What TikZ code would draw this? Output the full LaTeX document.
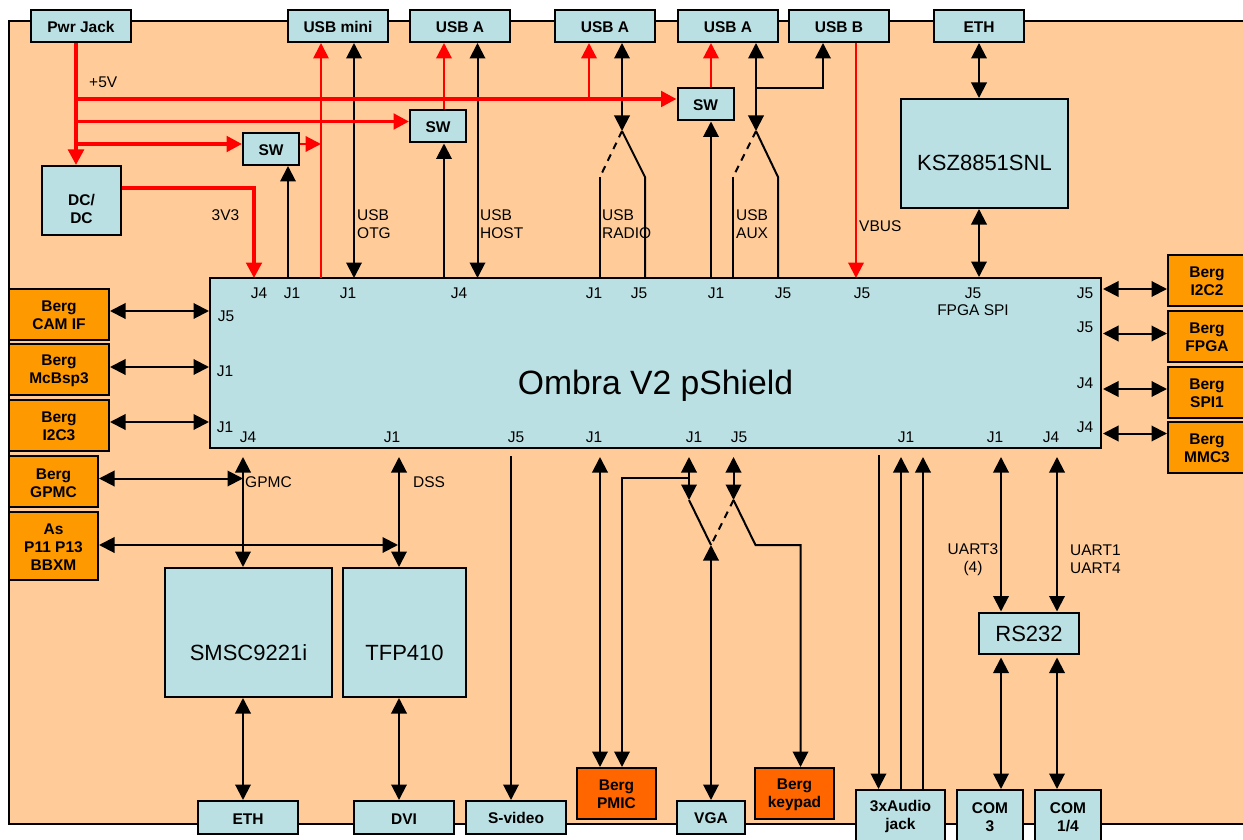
\documentclass[tikz,border=0pt]{standalone}
\usepackage{fontspec}
\setmainfont{Liberation Sans}
\usepackage{xcolor}
\usetikzlibrary{arrows.meta,positioning}
\definecolor{boardfill}{HTML}{FFCC99}
\definecolor{partfill}{HTML}{BBE0E3}
\definecolor{bergfill}{HTML}{FF9900}
\definecolor{bergdark}{HTML}{FF6600}

\begin{document}
\begin{tikzpicture}[
    x=1pt, y=-1pt,
    part/.style={rectangle, draw=black, fill=partfill, line width=2pt, inner sep=0pt, outer sep=1pt, align=center, font=\fontsize{15.5}{18}\selectfont\bfseries},
    conn/.style={part, minimum width=100pt, minimum height=32pt, text height=13pt},
    swbox/.style={part, minimum width=56pt, minimum height=32pt, text height=13pt},
    chip/.style={part, font=\fontsize{22}{26}\selectfont, text height=56pt, text depth=0pt},
    berg/.style={part, fill=bergfill, minimum width=100pt, minimum height=51pt, text height=31pt},
    bergsmall/.style={berg, minimum width=89pt},
    lowconn/.style={part, minimum height=52pt, text height=31pt},
    lbl/.style={inner sep=0pt, font=\fontsize{15.5}{18}\selectfont},
    txt/.style={lbl, anchor=west, align=left},
    tip/.style={-{Triangle[length=15.5pt,width=15.5pt]}},
    arrow/.style={tip, line width=2pt},
    both/.style={{Triangle[length=15.5pt,width=15.5pt]}-{Triangle[length=15.5pt,width=15.5pt]}, line width=2pt},
    wire/.style={line width=2pt},
    redarrow/.style={tip, draw=red, line width=2.2pt},
    rail/.style={tip, draw=red, line width=3.6pt}
]
\clip (0,0) rectangle (1243,840);
\draw[fill=boardfill, line width=2pt] (9,21) rectangle (1260,824);

% Main board
\node[part, minimum width=891pt, minimum height=170pt, font=\fontsize{33.7}{40}\selectfont, text height=62pt, text depth=0pt] (main) at (655.5,363) {Ombra V2 pShield};

% Top connectors
\node[conn] (pwrjack) at (81,26) {Pwr Jack};
\node[conn] (usbmini) at (338,26) {USB mini};
\node[conn, right of=usbmini, node distance=122pt] (usbaa) {USB A};
\node[conn, right of=usbaa, node distance=145pt] (usbab) {USB A};
\node[conn, right of=usbab, node distance=123pt] (usbac) {USB A};
\node[conn, right of=usbac, node distance=111pt] (usbb) {USB B};
\node[conn, minimum width=90pt] (ethtop) at (979,26) {ETH};

% Switches and regulators
\node[swbox] (swa) at (271,149) {SW};
\node[swbox] (swb) at (438,126.5) {SW};
\node[swbox] (swc) at (705.5,104.5) {SW};
\node[part, minimum width=79pt, minimum height=69pt, text height=47pt] (dcdc) at (81.5,200.5) {DC/\\DC};
\node[chip, minimum width=167pt, minimum height=109pt, text height=34pt] (ksz) at (984.5,153.5) {KSZ8851SNL};

% Berg headers, left
\node[berg] (bergcam) at (59,314) {Berg\\CAM IF};
\node[berg, below of=bergcam, node distance=55.5pt] (bergmcbsp) {Berg\\McBsp3};
\node[berg, below of=bergmcbsp, node distance=56pt] (bergictwo) {Berg\\I2C3};
\node[bergsmall, text height=33pt] (berggpmc) at (53.5,481) {Berg\\GPMC};
\node[bergsmall, minimum height=68pt, text height=49pt] (bergas) at (53.5,546) {As\\P11 P13\\BBXM};

% Berg headers, right
\node[bergsmall, minimum width=78pt] (bergicb) at (1207,280.5) {Berg\\I2C2};
\node[bergsmall, minimum width=78pt, below of=bergicb, node distance=56pt] (bergfpga) {Berg\\FPGA};
\node[bergsmall, minimum width=78pt, below of=bergfpga, node distance=55.5pt] (bergspi) {Berg\\SPI1};
\node[bergsmall, minimum width=78pt, below of=bergspi, node distance=55.5pt] (bergmmc) {Berg\\MMC3};

% Lower parts
\node[chip, minimum width=167pt, minimum height=129pt] (smsc) at (248.5,632.5) {SMSC9221i};
\node[chip, minimum width=123pt, minimum height=129pt] (tfp) at (404.5,632.5) {TFP410};
\node[part, minimum width=100pt, minimum height=41pt, font=\fontsize{22}{26}\selectfont, text height=18pt] (rs) at (1029,633) {RS232};

% Bottom connectors
\node[conn, minimum height=33pt] (ethlow) at (248,817.5) {ETH};
\node[conn, minimum height=33pt] (dvi) at (404,817.5) {DVI};
\node[conn, minimum height=33pt] (svideo) at (516,817.5) {S-video};
\node[conn, minimum height=33pt, minimum width=68pt] (vga) at (711,817.5) {VGA};
\node[berg, fill=bergdark, minimum width=79pt] (bergpmic) at (616.5,793.5) {Berg\\PMIC};
\node[berg, fill=bergdark, minimum width=79pt] (bergkey) at (794.5,793.5) {Berg\\keypad};
\node[lowconn, minimum width=89pt] (audio) at (900.5,816) {3xAudio\\jack};
\node[lowconn, minimum width=66pt] (comthree) at (990,816) {COM\\3};
\node[lowconn, minimum width=66pt] (comfour) at (1068,816) {COM\\1/4};

% Connector ends on the board, top edge
\coordinate (tpwr) at (254,278);
\coordinate (tswa) at (288,278);
\coordinate (tmini) at (321,278);
\coordinate (totg) at (354,278);
\coordinate (tswb) at (444,278);
\coordinate (thost) at (477.5,278);
\coordinate (tradioa) at (600,278);
\coordinate (tradiob) at (645,278);
\coordinate (tswc) at (711,278);
\coordinate (tauxa) at (733,278);
\coordinate (tauxb) at (778,278);
\coordinate (tvbus) at (856,278);

% Connector ends on the board, bottom edge
\coordinate (bgpmc) at (243,457);
\coordinate (bdss) at (399,457);
\coordinate (bsv) at (511,456);
\coordinate (bpmic) at (600,457);
\coordinate (bvgaa) at (689,457);
\coordinate (bvgab) at (733.5,457);
\coordinate (baua) at (878.5,455);
\coordinate (baub) at (901,457);
\coordinate (bauc) at (923,457);
\coordinate (buartc) at (1001,457);
\coordinate (buarta) at (1057,457);

% Connector ends on the board, sides
\coordinate (lcam) at (209,311);
\coordinate (lmcbsp) at (209,367);
\coordinate (lic) at (209,422);
\coordinate (ricb) at (1103,289);
\coordinate (rfpga) at (1103,333.5);
\coordinate (rspi) at (1103,389);
\coordinate (rmmc) at (1103,433.5);

% Bends and junctions
\coordinate (railc) at (76,99);
\coordinate (railb) at (76,121.5);
\coordinate (raila) at (76,144);
\coordinate (railup) at (589,99);
\coordinate (vthree) at (254,188);
\coordinate (radiosw) at (622,131);
\coordinate (radioa) at (600,177);
\coordinate (radiob) at (645,177);
\coordinate (auxsw) at (756,131);
\coordinate (auxa) at (733,177);
\coordinate (auxb) at (778,177);
\coordinate (auxbr) at (756,88);
\coordinate (usbbr) at (823,88);
\coordinate (gpmcj) at (243,478.5);
\coordinate (dssj) at (398,545);
\coordinate (pmicbr) at (689,478);
\coordinate (pmicup) at (622,478);
\coordinate (vgaa) at (689,500);
\coordinate (vgab) at (733.5,500);
\coordinate (vgasw) at (711,545);
\coordinate (keya) at (755.5,545);
\coordinate (keyb) at (800.5,545);

% Black signal lines, top
\draw[arrow] (tswa) -- (swa.south -| tswa);
\draw[both] (usbmini.south -| totg) -- (totg);
\draw[arrow] (tswb) -- (swb.south -| tswb);
\draw[both] (usbaa.south -| thost) -- (thost);
\draw[both] (usbab.south -| radiosw) -- (radiosw);
\draw[wire, dash pattern=on 7pt off 6pt] (radiosw) -- (radioa);
\draw[wire] (radioa) -- (tradioa);
\draw[wire] (radiosw) -- (radiob) -- (tradiob);
\draw[arrow] (tswc) -- (swc.south -| tswc);
\draw[both] (usbac.south -| auxsw) -- (auxsw);
\draw[arrow] (auxbr) -- (usbbr) -- (usbb.south -| usbbr);
\draw[wire, dash pattern=on 7pt off 6pt] (auxsw) -- (auxa);
\draw[wire] (auxa) -- (tauxa);
\draw[wire] (auxsw) -- (auxb) -- (tauxb);
\draw[both] (ethtop.south) -- (ksz.north -| ethtop.south);
\draw[both] (ksz.south -| ethtop.south) -- (main.north -| ethtop.south);

% Red supply lines
\draw[rail] (pwrjack.south -| railc) -- (dcdc.north -| railc);
\draw[rail] (railc) -- (swc.west |- railc);
\draw[rail] (railb) -- (swb.west |- railb);
\draw[rail] (raila) -- (swa.west |- raila);
\draw[redarrow] (swa.east |- raila) -- (tmini |- raila);
\draw[redarrow, line width=1.7pt] (tmini) -- (usbmini.south -| tmini);
\draw[redarrow] (swb.north -| tswb) -- (usbaa.south -| tswb);
\draw[redarrow] (railup) -- (usbab.south -| railup);
\draw[redarrow] (swc.north -| tswc) -- (usbac.south -| tswc);
\draw[redarrow] (usbb.south -| tvbus) -- (tvbus);
\draw[rail] (dcdc.east |- vthree) -- (vthree) -- (tpwr);

% Left side
\draw[both] (bergcam.east |- lcam) -- (lcam);
\draw[both] (bergmcbsp.east |- lmcbsp) -- (lmcbsp);
\draw[both] (bergictwo.east |- lic) -- (lic);
\draw[both] (berggpmc.east |- gpmcj) -- (gpmcj);
\draw[both] (bergas.east |- dssj) -- (dssj);

% Right side
\draw[both] (ricb) -- (bergicb.west |- ricb);
\draw[both] (rfpga) -- (bergfpga.west |- rfpga);
\draw[both] (rspi) -- (bergspi.west |- rspi);
\draw[both] (rmmc) -- (bergmmc.west |- rmmc);

% Below the board
\draw[both] (bgpmc) -- (smsc.north -| bgpmc);
\draw[both] (bdss) -- (tfp.north -| bdss);
\draw[both] (smsc.south -| bgpmc) -- (ethlow.north -| bgpmc);
\draw[both] (tfp.south -| bdss) -- (dvi.north -| bdss);
\draw[arrow] (bsv) -- (svideo.north -| bsv);
\draw[both] (bpmic) -- (bergpmic.north -| bpmic);
\draw[arrow] (pmicbr) -- (pmicup) -- (bergpmic.north -| pmicup);
\draw[both] (bvgaa) -- (vgaa);
\draw[both] (bvgab) -- (vgab);
\draw[wire] (vgaa) -- (vgasw);
\draw[wire, dash pattern=on 7pt off 6pt] (vgab) -- (vgasw);
\draw[arrow] (vgab) -- (keya) -- (keyb) -- (bergkey.north -| keyb);
\draw[both] (vgasw) -- (vga.north -| vgasw);
\draw[arrow] (baua) -- (audio.north -| baua);
\draw[arrow] (audio.north -| baub) -- (baub);
\draw[arrow] (audio.north -| bauc) -- (bauc);
\draw[both] (buartc) -- (rs.north -| buartc);
\draw[both] (buarta) -- (rs.north -| buarta);
\draw[both] ([yshift=-3pt]rs.south -| buartc) -- (comthree.north -| buartc);
\draw[both] ([yshift=-3pt]rs.south -| buarta) -- (comfour.north -| buarta);

% Signal names
\node[txt] (lfive) at (89,82) {+5V};
\node[lbl] (lthree) at (225.5,215) {3V3};
\node[txt] (lotg) at (357,224) {USB\\OTG};
\node[txt] (lhost) at (480,224) {USB\\HOST};
\node[txt] (lradio) at (602,224) {USB\\RADIO};
\node[txt] (laux) at (736,224) {USB\\AUX};
\node[txt] (lvbus) at (859,226) {VBUS};
\node[txt] (lgpmc) at (245,482) {GPMC};
\node[txt] (ldss) at (413,482) {DSS};
\node[lbl, align=center] (luartc) at (973,560) {UART3\\(4)};
\node[txt] (luarta) at (1070,559) {UART1\\UART4};
\node[lbl] (lspi) at (973,310) {FPGA SPI};

% Pin headers, top row
\node[lbl] (ja) at (259,293) {J4};
\node[lbl] (jb) at (292,293) {J1};
\node[lbl] (jc) at (348,293) {J1};
\node[lbl] (jd) at (459,293) {J4};
\node[lbl] (je) at (594,293) {J1};
\node[lbl] (jf) at (639,293) {J5};
\node[lbl] (jg) at (716,293) {J1};
\node[lbl] (jh) at (783,293) {J5};
\node[lbl] (ji) at (862,293) {J5};
\node[lbl] (jj) at (973,293) {J5};

% Pin headers, sides
\node[lbl] (jk) at (1085,293) {J5};
\node[lbl] (jl) at (1085,327) {J5};
\node[lbl] (jm) at (1085,383) {J4};
\node[lbl] (jn) at (1085,427) {J4};
\node[lbl] (jo) at (226,316) {J5};
\node[lbl] (jp) at (225,371) {J1};
\node[lbl] (jq) at (225,427) {J1};

% Pin headers, bottom row
\node[lbl] (jr) at (248,437.5) {J4};
\node[lbl] (js) at (392,437.5) {J1};
\node[lbl] (jt) at (516,437.5) {J5};
\node[lbl] (ju) at (594,437.5) {J1};
\node[lbl] (jv) at (694,437.5) {J1};
\node[lbl] (jw) at (739,437.5) {J5};
\node[lbl] (jx) at (906,437.5) {J1};
\node[lbl] (jy) at (995,437.5) {J1};
\node[lbl] (jz) at (1051,437.5) {J4};

\end{tikzpicture}
\end{document}
